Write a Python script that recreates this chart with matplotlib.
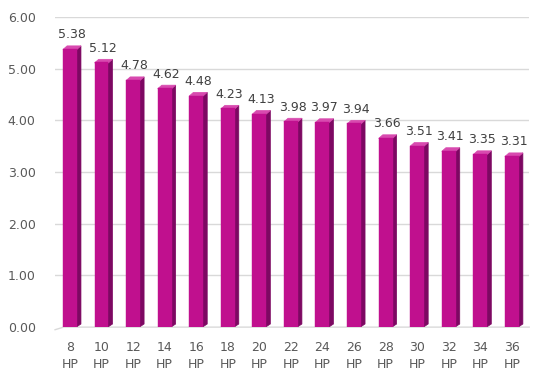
import matplotlib.pyplot as plt
from matplotlib.patches import Polygon

labels = ["8\nHP", "10\nHP", "12\nHP", "14\nHP", "16\nHP", "18\nHP", "20\nHP", "22\nHP",
          "24\nHP", "26\nHP", "28\nHP", "30\nHP", "32\nHP", "34\nHP", "36\nHP"]
values = [5.38, 5.12, 4.78, 4.62, 4.48, 4.23, 4.13, 3.98, 3.97, 3.94, 3.66, 3.51, 3.41, 3.35, 3.31]

fig = plt.figure(figsize=(5.4, 3.76), dpi=100)
ax = fig.add_axes([0.102, 0.13, 0.878, 0.825])

x = list(range(len(values)))
w = 0.44
dx, dy = 0.13, 0.06

# grid lines behind the bars
for g in [1, 2, 3, 4, 5, 6]:
    ax.axhline(g, color="#d9d9d9", lw=1, zorder=0)
ax.plot([-0.47, -0.2, 14.55], [-0.05, 0.0, 0.0], color="#d9d9d9", lw=1, zorder=0, clip_on=False)

front_c, side_c, top_c = "#c0108e", "#7d0862", "#d84aaf"
for xi, v in zip(x, values):
    left = xi - w / 2
    right = xi + w / 2
    side = Polygon([(right - 0.02, 0), (right + dx, dy), (right + dx, v + dy), (right - 0.02, v)],
                   closed=True, facecolor=side_c, edgecolor=side_c, lw=0.5, zorder=3)
    top = Polygon([(left, v - 0.01), (right, v - 0.01), (right + dx, v + dy), (left + dx, v + dy)],
                  closed=True, facecolor=top_c, edgecolor=top_c, lw=0.5, zorder=4)
    ax.add_patch(side)
    ax.add_patch(top)
    ax.text(xi + 0.05, v + 0.15, f"{v:.2f}", ha="center", va="bottom",
            fontsize=9, color="#404040", zorder=6)
ax.bar(x, values, width=w, color=front_c, edgecolor=front_c, lw=0.3, zorder=5)

ax.set_xlim(-0.47, 14.55)
ax.set_ylim(0, 6)
ax.set_yticks([0, 1, 2, 3, 4, 5, 6])
ax.set_yticklabels([f"{t:.2f}" for t in [0, 1, 2, 3, 4, 5, 6]])
ax.set_xticks(x)
ax.set_xticklabels(labels, linespacing=1.4)
ax.tick_params(axis="both", length=0, labelsize=9, labelcolor="#595959")
ax.tick_params(axis="y", pad=14)
ax.tick_params(axis="x", pad=10)
for s in ax.spines.values():
    s.set_visible(False)

fig.savefig("out.png", dpi=100)
